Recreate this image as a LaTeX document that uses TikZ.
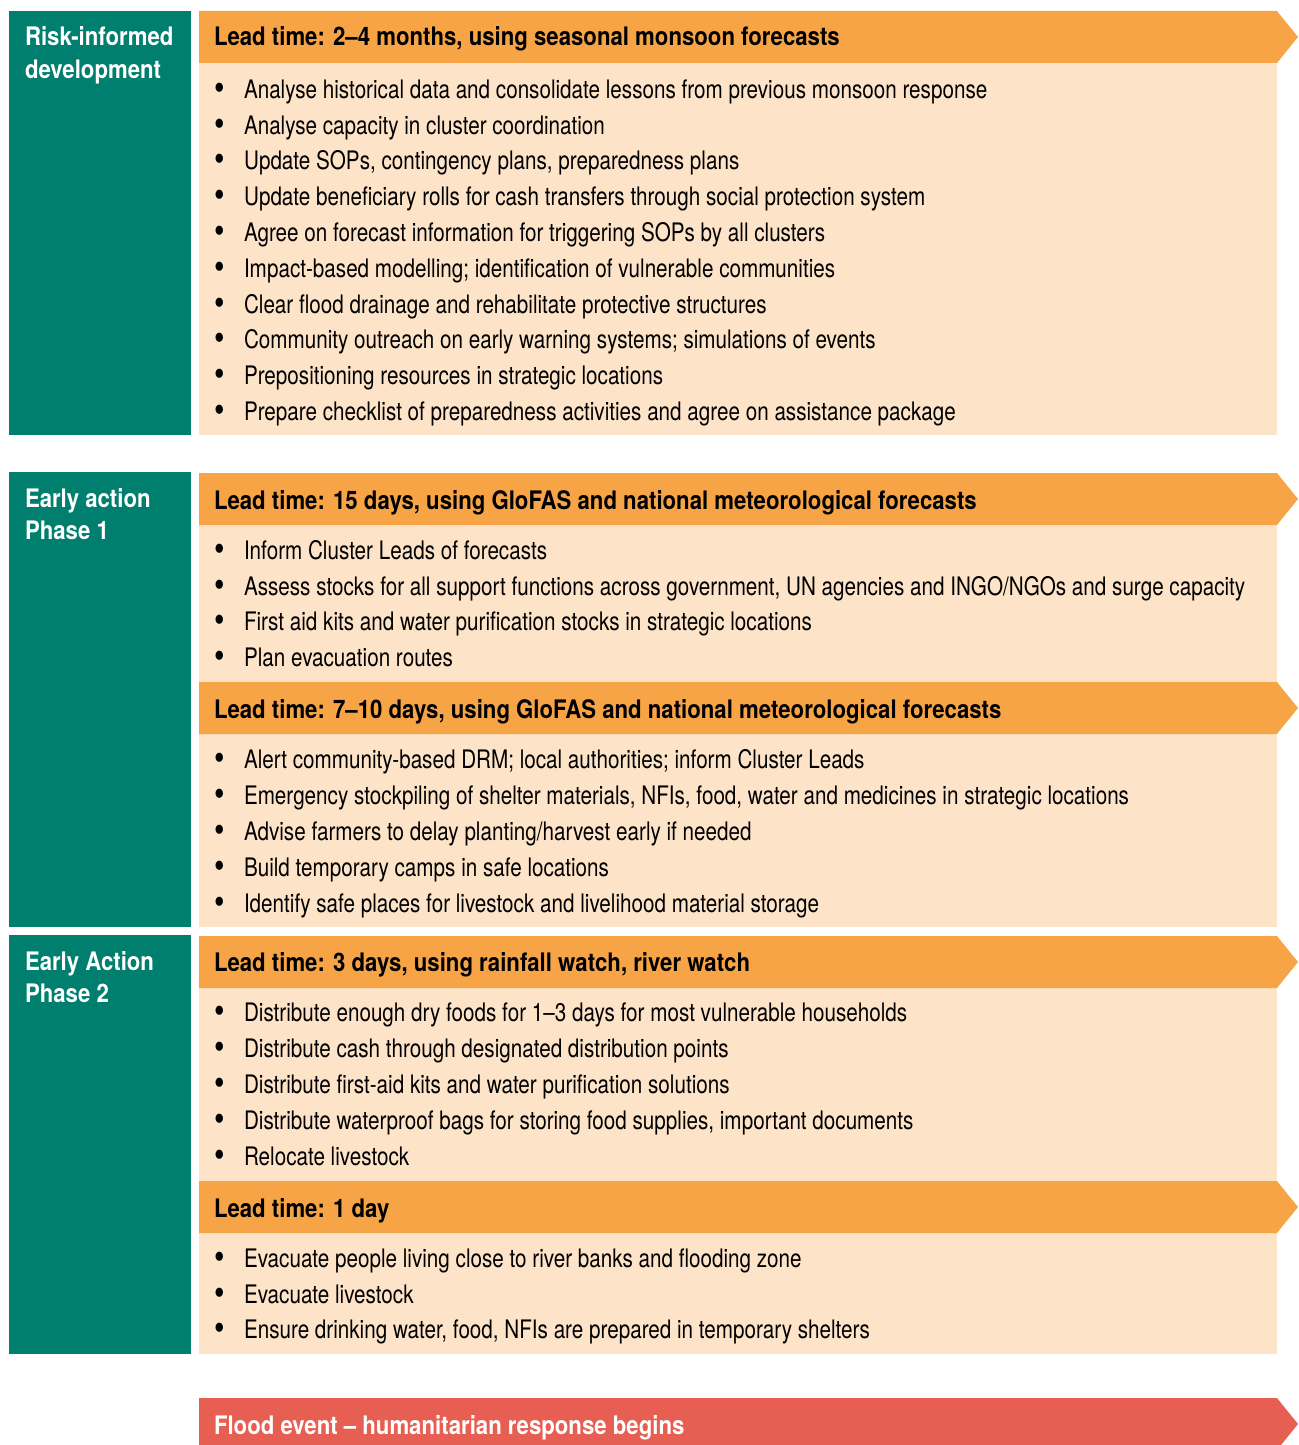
\documentclass[tikz,border=0pt]{standalone}
\usepackage{fontspec}
\usepackage{graphicx}
\setmainfont{TeX Gyre Heros}[FakeStretch=0.81, BoldFeatures={FakeStretch=0.87}]
\usetikzlibrary{shapes.symbols}

\definecolor{phasegreen}{RGB}{0,127,110}
\definecolor{leadorange}{RGB}{247,164,70}
\definecolor{bodypeach}{RGB}{253,227,200}
\definecolor{floodred}{RGB}{230,95,82}

\begin{document}
\begin{tikzpicture}[x=1pt, y=-1pt]
\tikzstyle{every node} = [inner sep=0pt, outer sep=0pt]
\tikzstyle{phase} = [fill=phasegreen, anchor=north west, minimum width=182pt]
\tikzstyle{label} = [anchor=base west, text=white, font=\fontsize{25.5}{32}\selectfont\bfseries]
\tikzstyle{body} = [fill=bodypeach, anchor=north west, minimum width=1078pt]
\tikzstyle{lead} = [fill=leadorange, shape=signal, signal to=east, signal from=nowhere,
  signal pointer angle=102, anchor=north west, minimum width=1099pt, minimum height=52pt]
\tikzstyle{leadtext} = [anchor=base west, font=\fontsize{25.5}{30}\selectfont\bfseries]
\tikzstyle{item} = [anchor=base west, font=\fontsize{25.5}{30}\selectfont]
\newcommand{\bul}{\makebox[30pt][l]{\raisebox{-0.15ex}{\scalebox{1.45}{\textbullet}}}}
\useasboundingbox (0,0) rectangle (1298,1445);

% phases
\node [phase, minimum height=424pt] (g1) at (9,11) {};
\node [phase, minimum height=455pt] (g2) at (9,472) {};
\node [phase, minimum height=419pt] (g3) at (9,935) {};
\node [label] (l1) at (25,46) {Risk-informed};
\node [label] (l1b) at (25,78) {development};
\node [label] (l2) at (25,507) {Early action};
\node [label] (l2b) at (25,539) {Phase 1};
\node [label] (l3) at (25,970) {Early Action};
\node [label] (l3b) at (25,1002) {Phase 2};

% bodies
\node [body, minimum height=372pt] (b1) at (199,63) {};
\node [body, minimum height=157pt] (b2) at (199,525) {};
\node [body, minimum height=193pt] (b3) at (199,734) {};
\node [body, minimum height=193pt] (b4) at (199,988) {};
\node [body, minimum height=121pt] (b5) at (199,1233) {};

% lead times
\node [lead] (h1) at (199,11) {};
\node [lead] (h2) at (199,473) {};
\node [lead] (h3) at (199,682) {};
\node [lead] (h4) at (199,936) {};
\node [lead] (h5) at (199,1181) {};
\node [lead, fill=floodred] (h6) at (199,1398) {};
\node [leadtext] (t1) at (214,46) {Lead time: 2--4 months, using seasonal monsoon forecasts};
\node [leadtext] (t2) at (214,509) {Lead time: 15 days, using GloFAS and national meteorological forecasts};
\node [leadtext] (t3) at (214,718) {Lead time: 7--10 days, using GloFAS and national meteorological forecasts};
\node [leadtext] (t4) at (214,971) {Lead time: 3 days, using rainfall watch, river watch};
\node [leadtext] (t5) at (214,1217) {Lead time: 1 day};
\node [leadtext, text=white] (t6) at (214,1434) {Flood event -- humanitarian response begins};

% risk-informed development
\node [item] (a1) at (214,98.3) {\bul Analyse historical data and consolidate lessons from previous monsoon response};
\node [item] (a2) at (214,134.1) {\bul Analyse capacity in cluster coordination};
\node [item] (a3) at (214,169.9) {\bul Update SOPs, contingency plans, preparedness plans};
\node [item] (a4) at (214,205.7) {\bul Update beneficiary rolls for cash transfers through social protection system};
\node [item] (a5) at (214,241.5) {\bul Agree on forecast information for triggering SOPs by all clusters};
\node [item] (a6) at (214,277.3) {\bul Impact-based modelling; identification of vulnerable communities};
\node [item] (a7) at (214,313.1) {\bul Clear flood drainage and rehabilitate protective structures};
\node [item] (a8) at (214,348.9) {\bul Community outreach on early warning systems; simulations of events};
\node [item] (a9) at (214,384.7) {\bul Prepositioning resources in strategic locations};
\node [item] (a10) at (214,420.5) {\bul Prepare checklist of preparedness activities and agree on assistance package};

% phase 1
\node [item] (c1) at (214,559) {\bul Inform Cluster Leads of forecasts};
\node [item] (c2) at (214,595) {\bul Assess stocks for all support functions across government, UN agencies and INGO/NGOs and surge capacity};
\node [item] (c3) at (214,630) {\bul First aid kits and water purification stocks in strategic locations};
\node [item] (c4) at (214,666) {\bul Plan evacuation routes};
\node [item] (d1) at (214,768) {\bul Alert community-based DRM; local authorities; inform Cluster Leads};
\node [item] (d2) at (214,804) {\bul Emergency stockpiling of shelter materials, NFIs, food, water and medicines in strategic locations};
\node [item] (d3) at (214,840) {\bul Advise farmers to delay planting/harvest early if needed};
\node [item] (d4) at (214,876) {\bul Build temporary camps in safe locations};
\node [item] (d5) at (214,912) {\bul Identify safe places for livestock and livelihood material storage};

% phase 2
\node [item] (e1) at (214,1021) {\bul Distribute enough dry foods for 1--3 days for most vulnerable households};
\node [item] (e2) at (214,1057) {\bul Distribute cash through designated distribution points};
\node [item] (e3) at (214,1093) {\bul Distribute first-aid kits and water purification solutions};
\node [item] (e4) at (214,1129) {\bul Distribute waterproof bags for storing food supplies, important documents};
\node [item] (e5) at (214,1165) {\bul Relocate livestock};
\node [item] (f1) at (214,1267) {\bul Evacuate people living close to river banks and flooding zone};
\node [item] (f2) at (214,1303) {\bul Evacuate livestock};
\node [item] (f3) at (214,1338) {\bul Ensure drinking water, food, NFIs are prepared in temporary shelters};
\end{tikzpicture}
\end{document}
